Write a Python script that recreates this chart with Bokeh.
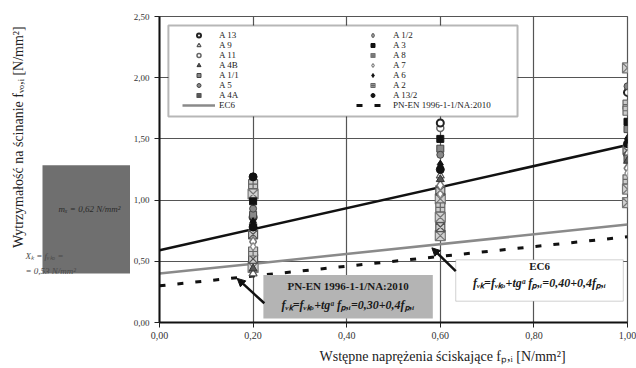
import math
from bokeh.plotting import figure
from bokeh.layouts import row
from bokeh.models import (Legend, LegendItem, BoxAnnotation, Label, Arrow, NormalHead,
                          FixedTicker, Range1d, Title)
from bokeh.embed import file_html
from bokeh.resources import INLINE

# ---------------- data ----------------
x_ticks = [0.0, 0.2, 0.4, 0.6, 0.8, 1.0]
x_tick_labels = ["0,00", "0,20", "0,40", "0,60", "0,80", "1,00"]
y_ticks = [0.0, 0.5, 1.0, 1.5, 2.0, 2.5]
y_tick_labels = ["0,00", "0,50", "1,00", "1,50", "2,00", "2,50"]

A13_x = [0.2, 0.6, 1.0];            A13_y = [0.86, 1.63, 1.88]
A9_x = [0.2, 0.6, 1.0];             A9_y = [0.40, 1.20, 1.38]
A11_x = [0.2, 0.6, 1.0];            A11_y = [0.80, 1.59, 1.44]
A4B_x = [0.2, 0.6, 1.0];            A4B_y = [0.44, 1.17, 1.32]
A1_1_x = [0.2, 0.6, 1.0, 1.0];      A1_1_y = [0.88, 1.42, 1.58, 1.34]
A5_x = [0.2, 0.6, 1.0];             A5_y = [0.93, 1.37, 1.93]
A4A_x = [0.2, 0.2, 0.6, 0.6, 1.0];  A4A_y = [0.72, 0.52, 1.08, 0.78, 1.41]
A1_2_x = [0.2, 0.6, 1.0];           A1_2_y = [0.66, 1.12, 1.26]
A3_x = [0.2, 0.6, 1.0];             A3_y = [0.99, 1.50, 1.64]
A8_x = [0.2, 0.2, 0.6, 0.6, 0.6, 1.0, 1.0, 1.0]
A8_y = [1.05, 0.45, 1.01, 0.86, 0.71, 2.08, 1.09, 0.98]
A7_x = [0.2, 0.6, 1.0];             A7_y = [0.62, 1.05, 1.22]
A6_x = [0.2, 0.6, 1.0];             A6_y = [0.82, 1.29, 1.50]
A2_x = [0.2, 0.2, 0.6, 1.0, 1.0, 1.0]
A2_y = [1.13, 0.58, 0.94, 1.78, 1.73, 1.17]
A13_2_x = [0.2, 0.2, 0.6, 1.0];     A13_2_y = [1.19, 0.78, 1.25, 1.46]

trend_x = [0.0, 1.0]; trend_y = [0.59, 1.45]
ec6_x = [0.0, 1.0];   ec6_y = [0.40, 0.80]
pn_x = [0.0, 1.0];    pn_y = [0.30, 0.70]

SERIF = "Liberation Serif"

# ---------------- left panel (axis title + grey statistics box) ----------------
q = figure(width=130, height=368, x_range=Range1d(0, 130), y_range=Range1d(368, 0),
           x_axis_type=None, y_axis_type=None, min_border=0,
           output_backend="svg", toolbar_location=None)
q.outline_line_color = None
q.background_fill_color = "white"
q.border_fill_color = "white"
q.grid.visible = False
q.add_layout(BoxAnnotation(left=42, right=130, top=179, bottom=309,
                           fill_color="#6f6f6f", fill_alpha=1, line_color=None))
q.add_layout(Label(x=18, y=143, text="Wytrzymałość na ścinanie fᵥₒ,ᵢ  [N/mm²]", angle=math.pi / 2,
                   text_font=SERIF, text_font_size="14px", text_color="#222222",
                   text_align="center", text_baseline="middle"))
q.add_layout(Label(x=58, y=232, text="mₓ = 0,62 N/mm²", text_font=SERIF, text_font_size="9px",
                   text_font_style="italic", text_color="#2a2a2a", text_baseline="middle"))
q.add_layout(Label(x=25, y=288, text="Xₖ = fᵥₖₒ =", text_font=SERIF, text_font_size="9px",
                   text_font_style="italic", text_color="#4a4a4a", text_baseline="middle"))
q.add_layout(Label(x=25, y=306, text="= 0,53 N/mm²", text_font=SERIF, text_font_size="9px",
                   text_font_style="italic", text_color="#4a4a4a", text_baseline="middle"))

# ---------------- main chart ----------------
p = figure(width=506, height=368, x_range=Range1d(0, 1), y_range=Range1d(0, 2.5),
           output_backend="svg", toolbar_location=None,
           min_border_left=28, min_border_right=9, min_border_top=16, min_border_bottom=20)
p.background_fill_color = "white"
p.border_fill_color = "white"
p.outline_line_color = "#555555"
p.outline_line_width = 1.2

for ax, ticks, labels, fs, so in ((p.xaxis[0], x_ticks, x_tick_labels, "10px", 4),
                                  (p.yaxis[0], y_ticks, y_tick_labels, "9px", 5)):
    ax.ticker = FixedTicker(ticks=ticks)
    ax.major_label_overrides = {t: l for t, l in zip(ticks, labels)}
    ax.minor_tick_line_color = None
    ax.major_tick_in = 0
    ax.major_tick_out = 5
    ax.major_tick_line_color = "#222222"
    ax.axis_line_color = "#111111"
    ax.axis_line_width = 2
    ax.major_label_text_font = SERIF
    ax.major_label_text_font_size = fs
    ax.major_label_text_color = "#333333"
    ax.major_label_standoff = so

for g in (p.xgrid[0], p.ygrid[0]):
    g.grid_line_color = "#555555"
    g.grid_line_width = 1.2
p.xgrid[0].ticker = FixedTicker(ticks=x_ticks)
p.ygrid[0].ticker = FixedTicker(ticks=y_ticks)

p.add_layout(Title(text="Wstępne naprężenia ściskające fₚ,ᵢ  [N/mm²]", align="left", offset=160,
                   text_font=SERIF, text_font_size="14px", text_font_style="normal",
                   text_color="#222222"), "below")

# lines
r_trend = p.line(trend_x, trend_y, line_color="#111111", line_width=2.5)
r_ec6 = p.line(ec6_x, ec6_y, line_color="#8a8a8a", line_width=2.5)
r_pn = p.line(pn_x, pn_y, line_color="#111111", line_width=3, line_dash="6 12")

# points
def sc(x, y, **kw):
    return p.scatter(x, y, **kw)

r_A8 = sc(A8_x, A8_y, marker="square_x", size=10, fill_color="#d2d2d2", line_color="#777777", line_width=1.2)
r_A4A = sc(A4A_x, A4A_y, marker="square_x", size=9, fill_color="#cccccc", line_color="#555555", line_width=1.2)
r_A2 = sc(A2_x, A2_y, marker="square_cross", size=9, fill_color="#cccccc", line_color="#666666", line_width=1.2)
r_A1_2 = sc(A1_2_x, A1_2_y, marker="diamond", size=10, fill_color="white", line_color="#777777", line_width=1.5)
r_A7 = sc(A7_x, A7_y, marker="diamond", size=8, fill_color="white", line_color="#888888", line_width=1.2)
r_A9 = sc(A9_x, A9_y, marker="triangle", size=8, fill_color="white", line_color="#555555", line_width=1.2)
r_A11 = sc(A11_x, A11_y, marker="circle", size=7, fill_color="white", line_color="#666666", line_width=1.5)
r_A13 = sc(A13_x, A13_y, marker="circle", size=7, fill_color="white", line_color="#222222", line_width=2)
r_A1_1 = sc(A1_1_x, A1_1_y, marker="square", size=7, fill_color="#888888", line_color="#444444", line_width=1)
r_A5 = sc(A5_x, A5_y, marker="circle", size=7, fill_color="#888888", line_color="#444444", line_width=1)
r_A4B = sc(A4B_x, A4B_y, marker="triangle", size=8, fill_color="#555555", line_color="#333333", line_width=1)
r_A3 = sc(A3_x, A3_y, marker="square", size=7, fill_color="#111111", line_color="#111111")
r_A6 = sc(A6_x, A6_y, marker="diamond", size=9, fill_color="#111111", line_color="#111111")
r_A13_2 = sc(A13_2_x, A13_2_y, marker="circle", size=8, fill_color="#111111", line_color="#111111")

# legend frame
p.add_layout(BoxAnnotation(left=0.019, right=0.765, top=2.426, bottom=1.683,
                           fill_color="white", fill_alpha=1, line_color="#111111", line_width=2))

def mk_legend(items, x, y):
    lg = Legend(items=[LegendItem(label=l, renderers=[r]) for l, r in items],
                location=(x, y), orientation="vertical",
                glyph_width=33, glyph_height=10, label_height=10, spacing=0,
                label_standoff=4, padding=0, margin=0,
                label_text_font=SERIF, label_text_font_size="9px", label_text_color="#222222",
                background_fill_alpha=0, border_line_alpha=0)
    p.add_layout(lg, "center")
    return lg

mk_legend([("A 13", r_A13), ("A 9", r_A9), ("A 11", r_A11), ("A 4B", r_A4B), ("A 1/1", r_A1_1),
           ("A 5", r_A5), ("A 4A", r_A4A), ("EC6", r_ec6)], 23, 212)
mk_legend([("A 1/2", r_A1_2), ("A 3", r_A3), ("A 8", r_A8), ("A 7", r_A7), ("A 6", r_A6),
           ("A 2", r_A2), ("A 13/2", r_A13_2), ("PN-EN 1996-1-1/NA:2010", r_pn)], 197, 212)

# annotation boxes
p.add_layout(BoxAnnotation(left=0.222, right=0.584, top=0.388, bottom=0.033,
                           fill_color="#b4b4b4", fill_alpha=1, line_color=None))
p.add_layout(BoxAnnotation(left=0.633, right=0.991, top=0.512, bottom=0.174,
                           fill_color="white", fill_alpha=1, line_color="#666666", line_width=1))

def lbl(x, y, text, size="11px", style="bold", color="#1a1a1a"):
    p.add_layout(Label(x=x, y=y, text=text, text_font=SERIF, text_font_size=size,
                       text_font_style=style, text_color=color, text_align="center",
                       text_baseline="middle"))

lbl(0.403, 0.298, "PN-EN 1996-1-1/NA:2010")
lbl(0.403, 0.14, "fᵥₖ=fᵥₖₒ+tgᵅ fₚ,ᵢ=0,30+0,4fₚ,ᵢ", size="12px", style="bold italic")
lbl(0.812, 0.463, "EC6")
lbl(0.812, 0.322, "fᵥₖ=fᵥₖₒ+tgᵅ fₚ,ᵢ=0,40+0,4fₚ,ᵢ", size="12px", style="bold italic")

p.add_layout(Arrow(end=NormalHead(size=8, fill_color="#111111", line_color="#111111"),
                   x_start=0.224, y_start=0.157, x_end=0.166, y_end=0.36,
                   line_color="#111111", line_width=2.5))
p.add_layout(Arrow(end=NormalHead(size=8, fill_color="#111111", line_color="#111111"),
                   x_start=0.633, y_start=0.42, x_end=0.582, y_end=0.61,
                   line_color="#111111", line_width=2.5))

open("out.html", "w").write(file_html(row(q, p), INLINE))
